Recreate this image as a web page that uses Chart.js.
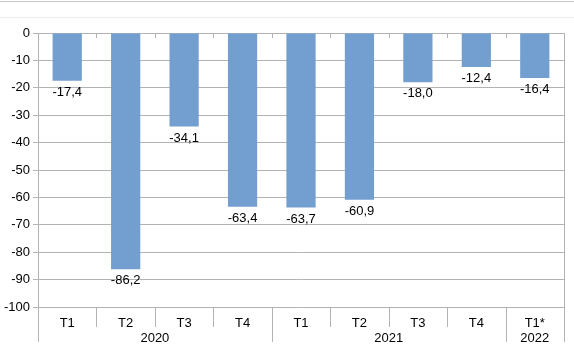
<!DOCTYPE html>
<html>
<head>
<meta charset="utf-8">
<script src="https://cdn.jsdelivr.net/npm/chart.js@4/dist/chart.umd.min.js"></script>
<style>
  html, body { margin:0; padding:0; background:#fff; }
  #wrap { position:relative; width:574px; height:358px; }
  .topline1 { position:absolute; left:0; top:1px; width:574px; height:0; border-top:1px solid #c4c4c4; }
  .topline2 { position:absolute; left:0; top:17px; width:574px; height:0; border-top:1px solid #ececec; }
  canvas { position:absolute; left:0; top:0; }
</style>
</head>
<body>
<div id="wrap">
  <div class="topline1"></div>
  <div class="topline2"></div>
  <canvas id="c" width="574" height="358"></canvas>
</div>
<script>
const quarters = ["T1","T2","T3","T4","T1","T2","T3","T4","T1*"];
const years = [
  { label:"2020", from:0, to:3 },
  { label:"2021", from:4, to:7 },
  { label:"2022", from:8, to:8 }
];
const values = [-17.4, -86.2, -34.1, -63.4, -63.7, -60.9, -18.0, -12.4, -16.4];

const FONT = "Liberation Sans, Arial, sans-serif";
const GRID = "#b3b3b3";

const fmt = v => v.toFixed(1).replace(".", ",");

// labels under bars + category axis drawn by hand
const extras = {
  id:"extras",
  afterDatasetsDraw(chart){
    const {ctx} = chart;
    const meta = chart.getDatasetMeta(0);
    ctx.save();
    ctx.font = "13px " + FONT;
    ctx.fillStyle = "#000";
    ctx.textAlign = "center";
    ctx.textBaseline = "top";
    meta.data.forEach((bar, i) => {
      ctx.fillText(fmt(values[i]), bar.x, bar.y + 5);
    });
    ctx.restore();
  },
  afterDraw(chart){
    const {ctx, chartArea:a} = chart;
    const x = chart.scales.x;
    const step = x.getPixelForValue(1) - x.getPixelForValue(0);
    ctx.save();
    ctx.strokeStyle = GRID;
    ctx.lineWidth = 1;
    // boundaries
    for(let i = 0; i <= quarters.length; i++){
      const px = Math.round(x.getPixelForValue(i) - step/2) + 0.5;
      const isYear = years.some(y => y.from === i) || i === quarters.length;
      ctx.beginPath();
      ctx.moveTo(px, a.bottom);
      ctx.lineTo(px, a.bottom + (isYear ? 35 : 20));
      ctx.stroke();
      // small ticks under the zero line
      ctx.beginPath();
      ctx.moveTo(px, a.top);
      ctx.lineTo(px, a.top + 5);
      ctx.stroke();
    }
    ctx.font = "13px " + FONT;
    ctx.fillStyle = "#000";
    ctx.textAlign = "center";
    ctx.textBaseline = "middle";
    quarters.forEach((q, i) => ctx.fillText(q, x.getPixelForValue(i), a.bottom + 16));
    years.forEach(y => {
      const cx = (x.getPixelForValue(y.from) + x.getPixelForValue(y.to)) / 2;
      ctx.fillText(y.label, cx, a.bottom + 31);
    });
    ctx.restore();
  }
};

new Chart(document.getElementById("c"), {
  type:"bar",
  data:{
    labels: quarters,
    datasets:[{
      data: values,
      backgroundColor:"#729fcf",
      borderWidth:0,
      barPercentage:0.5,
      categoryPercentage:1
    }]
  },
  options:{
    responsive:false,
    animation:false,
    layout:{ padding:{ top:33, right:10, left:0, bottom:0 } },
    plugins:{ legend:{ display:false }, tooltip:{ enabled:false } },
    scales:{
      x:{
        position:"bottom",
        grid:{ display:false },
        border:{ display:false },
        ticks:{ display:false },
        afterFit(s){ s.height = 51; }
      },
      y:{
        min:-100, max:0,
        ticks:{ stepSize:10, color:"#000", font:{ family:FONT, size:13 }, padding:3 },
        grid:{ color:GRID, tickLength:5 },
        border:{ color:GRID },
        afterFit(s){ s.width = 38; }
      }
    }
  },
  plugins:[extras, {
    id:"rightBorder",
    afterDraw(chart){
      const {ctx, chartArea:a} = chart;
      ctx.save();
      ctx.strokeStyle = GRID;
      ctx.beginPath();
      ctx.moveTo(Math.round(a.right) + 0.5, a.top);
      ctx.lineTo(Math.round(a.right) + 0.5, a.bottom);
      ctx.stroke();
      ctx.restore();
    }
  }]
});
</script>
</body>
</html>
